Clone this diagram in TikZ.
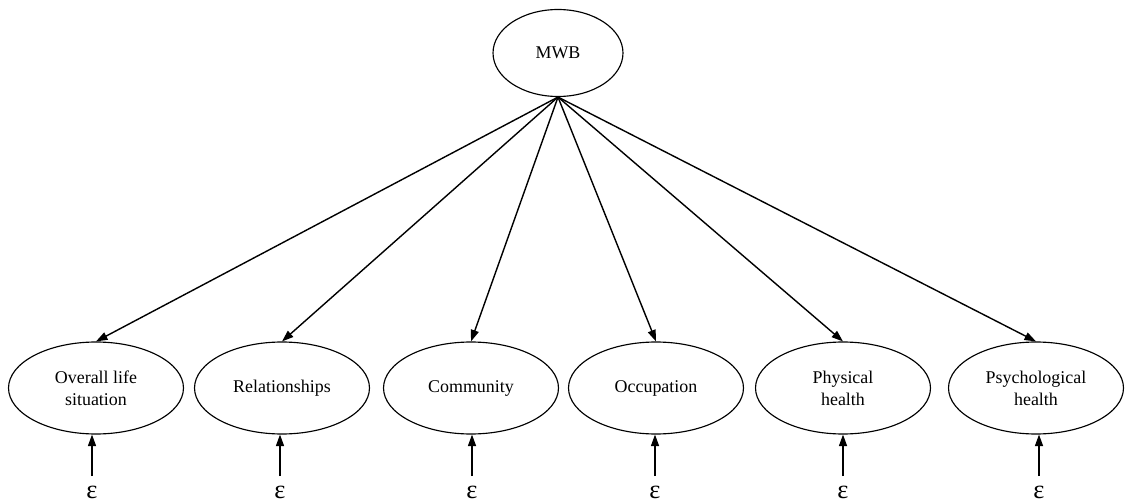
\documentclass[tikz,border=0pt]{standalone}
\usepackage{fontspec}
\setmainfont{Liberation Serif}
\usepackage{tikz}
\usetikzlibrary{arrows.meta,shapes}

\begin{document}
\begin{tikzpicture}[x=0.02cm,y=-0.02cm,
  factor/.style={ellipse,draw,line width=0.65pt,minimum width=3.5cm,minimum height=1.84cm,
    inner sep=0pt,align=center,font=\fontsize{10.2}{12.5}\selectfont},
  load/.style={line width=0.8pt,-{Triangle[length=2.3mm,width=1.6mm]}},
  err/.style={font=\fontsize{15}{16}\selectfont,inner sep=1pt}]
\useasboundingbox (0,0) rectangle (1126,503);
\node[factor,minimum width=2.6cm,minimum height=1.74cm](mwb) at (558,53){MWB};
\node[factor](life) at (96,388){Overall life\\situation};
\node[factor](rel) at (282,388){Relationships};
\node[factor](comm) at (471,388){Community};
\node[factor](occ) at (656,388){Occupation};
\node[factor](phys) at (843,388){Physical\\health};
\node[factor](psych) at (1036,388){Psychological\\health};
\draw[load](mwb.south)--(life.north);
\draw[load](mwb.south)--(rel.north);
\draw[load](mwb.south)--(comm.north);
\draw[load](mwb.south)--(occ.north);
\draw[load](mwb.south)--(phys.north);
\draw[load](mwb.south)--(psych.north);
% error terms
\node[err](e1) at (92,492){ε};
\node[err](e2) at (280,492){ε};
\node[err](e3) at (472,492){ε};
\node[err](e4) at (655,492){ε};
\node[err](e5) at (843,492){ε};
\node[err](e6) at (1039,492){ε};
\draw[load,shorten <=1.5mm](e1.north)--(e1.north|-life.south);
\draw[load,shorten <=1.5mm](e2.north)--(e2.north|-rel.south);
\draw[load,shorten <=1.5mm](e3.north)--(e3.north|-comm.south);
\draw[load,shorten <=1.5mm](e4.north)--(e4.north|-occ.south);
\draw[load,shorten <=1.5mm](e5.north)--(e5.north|-phys.south);
\draw[load,shorten <=1.5mm](e6.north)--(e6.north|-psych.south);
\end{tikzpicture}
\end{document}
